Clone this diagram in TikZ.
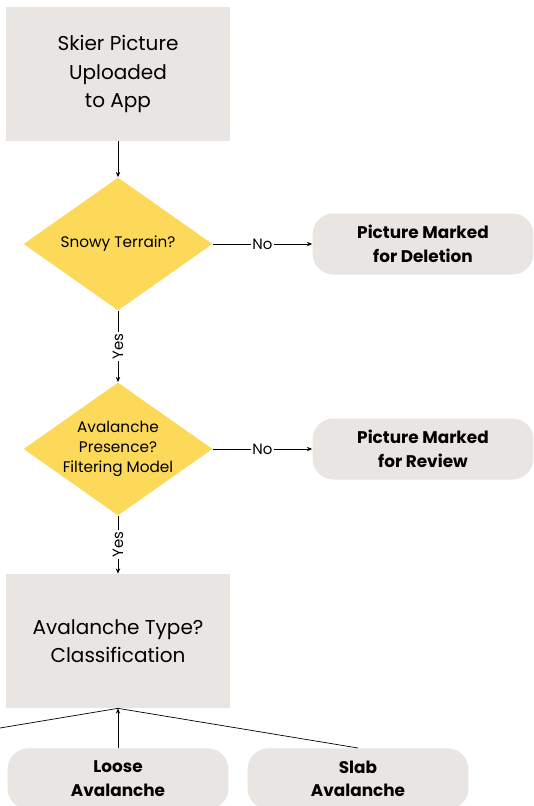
\documentclass[tikz,border=0pt]{standalone}
\usepackage{fontspec}
\setmainfont{Poppins}
\usetikzlibrary{shapes.geometric,arrows.meta}
\definecolor{boxgray}{HTML}{E8E5E3}
\definecolor{decyellow}{HTML}{FDD95A}

\tikzset{
  sqbox/.style = {fill=boxgray, minimum width=4.48cm, minimum height=2.68cm, align=center, font=\fontsize{11.4}{16}\selectfont},
  decision/.style = {shape=diamond, fill=decyellow, inner sep=-20pt, aspect=1.41, minimum width=3.78cm, minimum height=2.66cm, align=center, font=\fontsize{8.7}{11.3}\selectfont},
  outbox/.style = {fill=boxgray, rounded corners=0.42cm, minimum width=4.42cm, minimum height=1.22cm, align=center, font=\bfseries\fontsize{9.6}{13.6}\selectfont},
  flow/.style = {-{Stealth[length=3pt,width=2.5pt]}, line width=0.5pt},
  tag/.style = {fill=white, inner sep=1pt, font=\fontsize{8.5}{10}\selectfont}
}

\begin{document}
\begin{tikzpicture}[x=0.02cm, y=-0.02cm]
\useasboundingbox (0,0) rectangle (534,806);
\clip (0,0) rectangle (534,806);

% main column
\node[sqbox] (upload) at (118,74) {Skier Picture\\Uploaded\\ to App};
\node[decision] (snowy) at (118,244) {Snowy Terrain?};
\node[decision] (presence) at (118,449) {Avalanche\\Presence?\\Filtering Model};
\node[sqbox] (classify) at (118,641) {Avalanche Type?\\Classification};

% side boxes
\node[outbox] (deletion) at (423,244) {Picture Marked\\for Deletion};
\node[outbox] (review) at (423,449) {Picture Marked\\for Review};

% avalanche types
\node[outbox, anchor=north] (loose) at (118,748) {Loose\\Avalanche};
\node[outbox, anchor=north] (slab) at (358,748) {Slab\\Avalanche};
\coordinate (offleft) at (0,728);

\draw[flow] (upload) -- (snowy);
\draw[flow] (snowy) -- node[tag]{No} (deletion);
\draw[flow] (snowy) -- node[tag, rotate=90]{Yes} (presence);
\draw[flow] (presence) -- node[tag]{No} (review);
\draw[flow] (presence) -- node[tag, rotate=90]{Yes} (classify);

\draw[flow] (loose.north) -- (classify.south);
\draw (slab.north) -- (classify.south);
\draw (offleft) -- (classify.south);

\end{tikzpicture}
\end{document}
